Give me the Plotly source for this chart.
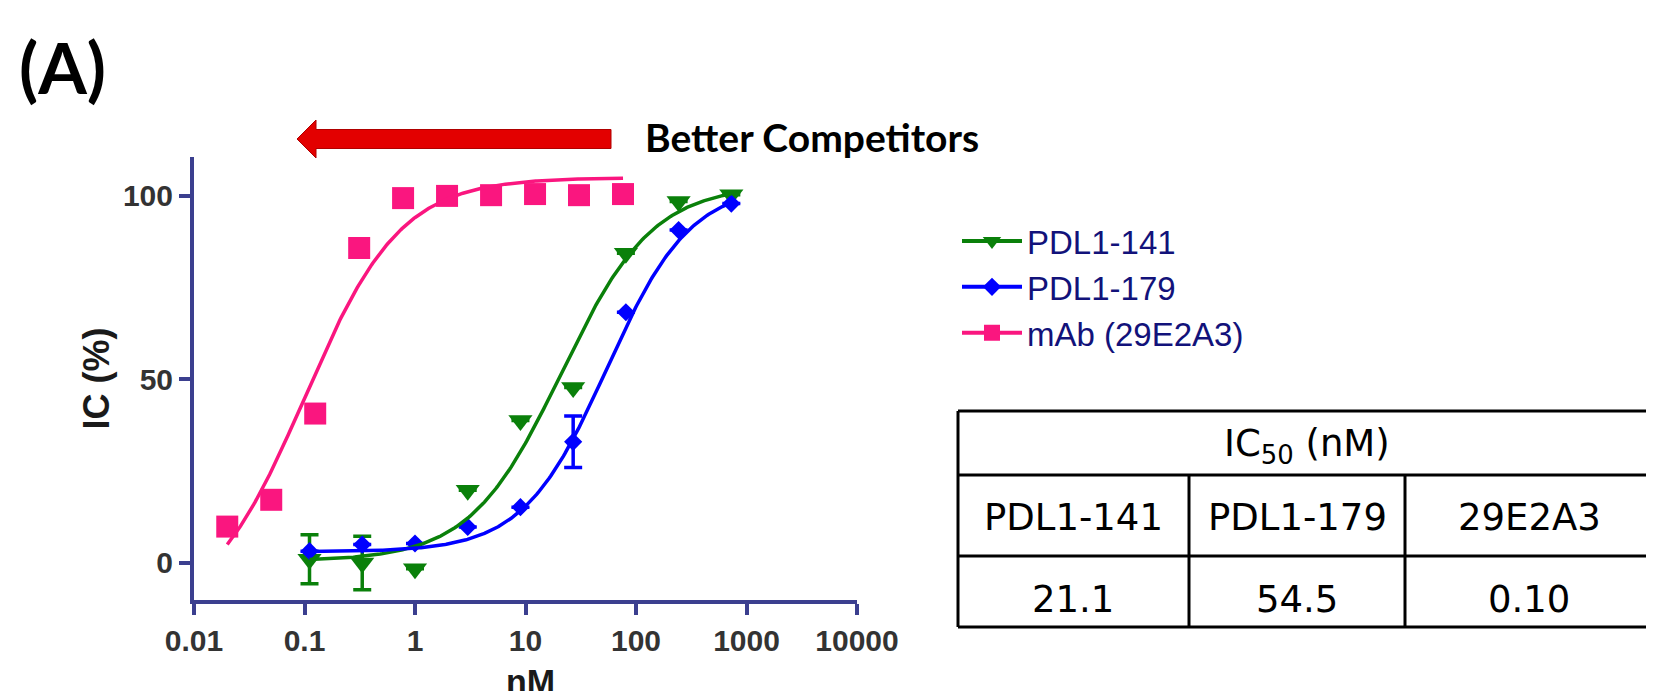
import numpy as np
import plotly.graph_objects as go

# ---------------- data ----------------
series_names = ["PDL1-141", "PDL1-179", "mAb (29E2A3)"]
series_colors = ["#0a800a", "#0000ff", "#fa167f"]
series_symbols = ["triangle-down", "diamond", "square"]
series_sizes = [21, 14, 22]

conc_pdl1 = [0.111, 0.333, 1, 3, 9, 27, 81, 243, 729]          # nM
ic_141 = [1.0, 0.0, -1.6, 19.8, 38.8, 47.8, 84.4, 98.5, 100.3]   # %
err_141 = [6.7, 7.3, 0, 0, 0, 0, 0, 0, 0]
ic_179 = [3.2, 5.0, 5.3, 9.8, 15.2, 33.0, 68.3, 90.7, 97.9]
err_179 = [0, 0, 0, 0, 0, 7.0, 0, 0, 0]

conc_mab = [0.02, 0.05, 0.125, 0.3125, 0.78, 1.95, 4.88, 12.2, 30.5, 76.3]
ic_mab = [9.9, 17.2, 40.7, 85.8, 99.4, 100.0, 100.2, 100.5, 100.2, 100.5]
err_mab = [0] * 10

# four-parameter logistic fits (IC50 as in the table)
fit_bottom = [0.5, 3.0, -15.0]
fit_top = [103.0, 103.0, 105.0]
fit_ic50 = [21.1, 54.5, 0.10]
fit_hill = [1.05, 1.15, 1.0]

x_ticks = [0.01, 0.1, 1, 10, 100, 1000, 10000]
x_tick_text = ["0.01", "0.1", "1", "10", "100", "1000", "10000"]
y_ticks = [0, 50, 100]
x_title = "nM"
y_title = "IC (%)"

table_title = "IC<sub>50</sub> (nM)"
table_headers = ["PDL1-141", "PDL1-179", "29E2A3"]
table_values = ["21.1", "54.5", "0.10"]

panel_label = "(A)"
arrow_text = "Better Competitors"

# ---------------- figure ----------------
W, H = 1654, 691
OFF = 8  # page body margin of the html page


def px(x):
    return (x - OFF) / W


def py(y):
    return 1 - (y - OFF) / H


AXIS_COLOR = "#3b3f8f"
fig = go.Figure()

xs_all = [conc_pdl1, conc_pdl1, conc_mab]
ys_all = [ic_141, ic_179, ic_mab]
errs_all = [err_141, err_179, err_mab]

# data points
for i in range(3):
    fig.add_trace(go.Scatter(
        x=xs_all[i], y=ys_all[i], mode="markers",
        marker=dict(symbol=series_symbols[i], size=series_sizes[i], color=series_colors[i]),
        error_y=dict(type="data", array=errs_all[i], visible=True,
                     color=series_colors[i], thickness=3.5, width=9),
        showlegend=False, name=series_names[i]))

# fitted curves
for i in range(3):
    xmin, xmax = min(xs_all[i]), max(xs_all[i])
    xc = np.logspace(np.log10(xmin), np.log10(xmax), 300)
    yc = fit_bottom[i] + (fit_top[i] - fit_bottom[i]) / (1 + (fit_ic50[i] / xc) ** fit_hill[i])
    fig.add_trace(go.Scatter(x=xc, y=yc, mode="lines",
                             line=dict(color=series_colors[i], width=3.5),
                             showlegend=False, hoverinfo="skip", name=series_names[i] + " fit"))

# legend entries
for i in range(3):
    fig.add_trace(go.Scatter(
        x=[None], y=[None], mode="lines+markers", name=series_names[i],
        marker=dict(symbol=series_symbols[i], size=series_sizes[i], color=series_colors[i]),
        line=dict(color=series_colors[i], width=4)))

TICK_FONT = dict(size=30, color="#333333", family="Liberation Sans, Arial", weight="bold")
fig.update_layout(
    width=W, height=H, autosize=False,
    margin=dict(l=0, r=0, t=0, b=0, autoexpand=False),
    paper_bgcolor="white", plot_bgcolor="white",
    font=dict(family="Liberation Sans, Arial, sans-serif"),
    xaxis=dict(type="log", range=[-2, 4], domain=[px(194), px(857)],
               tickvals=x_ticks, ticktext=x_tick_text, automargin=False,
               showline=True, linecolor=AXIS_COLOR, linewidth=4,
               ticks="outside", ticklen=11, tickwidth=4, tickcolor=AXIS_COLOR,
               tickfont=TICK_FONT, showgrid=False, zeroline=False),
    yaxis=dict(range=[-10.1, 110.6], domain=[py(600), py(157)],
               tickvals=y_ticks, automargin=False,
               showline=True, linecolor=AXIS_COLOR, linewidth=4,
               ticks="outside", ticklen=11, tickwidth=4, tickcolor=AXIS_COLOR,
               tickfont=TICK_FONT, showgrid=False, zeroline=False,
               title=dict(text="<b>" + y_title + "</b>", font=dict(size=36, color="#1a1a1a"), standoff=3)),
    legend=dict(x=px(957), y=py(213), xanchor="left", yanchor="top",
                font=dict(size=33, color="#12127a", family="Liberation Sans, Arial"),
                itemwidth=60, tracegroupgap=0, bgcolor="rgba(0,0,0,0)"),
)

shapes = []
# red arrow
tip_x, head_x, tail_x = 297, 316, 611
cy, head_h, shaft_h = 139, 19, 9.5
path = (f"M {px(tip_x)},{py(cy)} L {px(head_x)},{py(cy - head_h)} L {px(head_x)},{py(cy - shaft_h)} "
        f"L {px(tail_x)},{py(cy - shaft_h)} L {px(tail_x)},{py(cy + shaft_h)} L {px(head_x)},{py(cy + shaft_h)} "
        f"L {px(head_x)},{py(cy + head_h)} Z")
shapes.append(dict(type="path", path=path, xref="paper", yref="paper",
                   fillcolor="#e30000", line=dict(color="#b00000", width=1)))

# table lines
t_left, t_right = 958, 1670
row_y = [411, 475, 556, 627]
col_x = [958, 1189, 1405]
for yv in row_y:
    shapes.append(dict(type="line", xref="paper", yref="paper",
                       x0=px(t_left), x1=px(t_right), y0=py(yv), y1=py(yv),
                       line=dict(color="black", width=3)))
shapes.append(dict(type="line", xref="paper", yref="paper",
                   x0=px(t_left), x1=px(t_left), y0=py(row_y[0]), y1=py(row_y[-1]),
                   line=dict(color="black", width=3)))
for xv in col_x[1:]:
    shapes.append(dict(type="line", xref="paper", yref="paper",
                       x0=px(xv), x1=px(xv), y0=py(row_y[1]), y1=py(row_y[-1]),
                       line=dict(color="black", width=3)))
fig.update_layout(shapes=shapes)

TABLE_FONT = "DejaVu Sans, Open Sans, sans-serif"
ann = []
ann.append(dict(text=panel_label, x=px(17), y=py(67), xref="paper", yref="paper",
                xanchor="left", yanchor="middle", showarrow=False,
                font=dict(size=70, color="black", family="Lato, sans-serif", weight="bold")))
ann.append(dict(text=arrow_text, x=px(643), y=py(137), xref="paper", yref="paper",
                xanchor="left", yanchor="middle", showarrow=False,
                font=dict(size=39, color="black", family="Lato, sans-serif", weight="bold")))
# x-axis title (partly below the picture edge, as in the original)
ann.append(dict(text="<b>" + x_title + "</b>", x=px(530), y=py(681), xref="paper", yref="paper",
                xanchor="center", yanchor="middle", showarrow=False,
                font=dict(size=34, color="#1a1a1a", family="Liberation Sans, Arial")))
ann.append(dict(text=table_title, x=px(1307), y=py(446), xref="paper", yref="paper",
                xanchor="center", yanchor="middle", showarrow=False,
                font=dict(size=37, color="black", family=TABLE_FONT)))
col_centers = [1073, 1297, 1529]
for c, h, v in zip(col_centers, table_headers, table_values):
    ann.append(dict(text=h, x=px(c), y=py(517), xref="paper", yref="paper",
                    xanchor="center", yanchor="middle", showarrow=False,
                    font=dict(size=37, color="black", family=TABLE_FONT)))
    ann.append(dict(text=v, x=px(c), y=py(599), xref="paper", yref="paper",
                    xanchor="center", yanchor="middle", showarrow=False,
                    font=dict(size=37, color="black", family=TABLE_FONT)))
fig.update_layout(annotations=ann)

fig.write_html("out.html")
